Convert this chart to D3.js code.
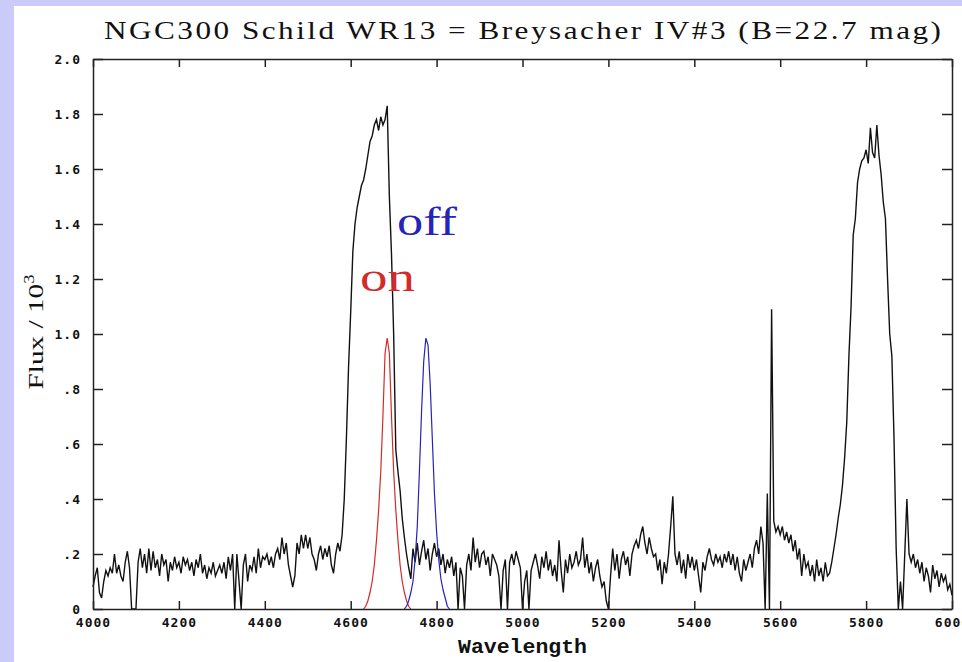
<!DOCTYPE html>
<html>
<head>
<meta charset="utf-8">
<script src="https://cdn.jsdelivr.net/npm/d3@7"></script>
<style>
  body { margin: 0; background: #cbcbfa; }
  svg { display: block; }
</style>
</head>
<body>
<div id="chart"></div>
<script>

// DATA  (flux in units of 10^3, sampled every 5 A from 4000 A)
var spectrumStart = 4000;
var spectrumStep = 5;
var spectrumFlux = [
  0.08,0.12,0.15,0.06,0.04,0.10,0.14,0.12,0.15,0.13,0.20,0.13,0.16,0.12,0.10,0.17,0.21,0.15,0.00,0.00,
  0.00,0.17,0.22,0.15,0.20,0.13,0.22,0.14,0.21,0.15,0.18,0.12,0.20,0.16,0.18,0.10,0.17,0.14,0.19,0.15,
  0.17,0.13,0.19,0.16,0.18,0.14,0.17,0.12,0.18,0.15,0.20,0.13,0.16,0.11,0.15,0.13,0.17,0.12,0.14,0.16,
  0.13,0.17,0.11,0.19,0.14,0.20,0.00,0.20,0.10,0.00,0.16,0.20,0.10,0.16,0.14,0.19,0.13,0.22,0.15,0.19,
  0.18,0.20,0.16,0.19,0.15,0.20,0.22,0.18,0.26,0.20,0.24,0.16,0.12,0.08,0.12,0.24,0.20,0.27,0.22,0.27,
  0.22,0.26,0.20,0.18,0.14,0.20,0.23,0.18,0.22,0.19,0.23,0.16,0.13,0.20,0.24,0.21,0.27,0.40,0.62,0.88,
  1.08,1.30,1.40,1.46,1.50,1.54,1.56,1.60,1.65,1.70,1.72,1.76,1.78,1.74,1.79,1.76,1.78,1.83,1.50,1.29,
  1.00,0.58,0.50,0.43,0.33,0.26,0.20,0.15,0.11,0.22,0.17,0.24,0.16,0.21,0.25,0.18,0.22,0.14,0.20,0.24,
  0.19,0.22,0.16,0.20,0.13,0.18,0.15,0.19,0.12,0.17,0.00,0.15,0.12,0.00,0.16,0.20,0.14,0.26,0.17,0.22,
  0.15,0.20,0.21,0.16,0.19,0.12,0.20,0.18,0.16,0.12,0.00,0.14,0.18,0.00,0.17,0.20,0.16,0.21,0.18,0.15,
  0.00,0.10,0.14,0.00,0.14,0.17,0.20,0.16,0.11,0.19,0.15,0.21,0.14,0.18,0.12,0.16,0.10,0.25,0.14,0.06,
  0.18,0.13,0.20,0.15,0.17,0.21,0.16,0.18,0.26,0.15,0.20,0.13,0.17,0.10,0.15,0.18,0.12,0.08,0.10,0.03,
  0.00,0.12,0.22,0.14,0.20,0.11,0.18,0.21,0.16,0.19,0.12,0.20,0.23,0.25,0.22,0.27,0.30,0.24,0.20,0.26,
  0.22,0.19,0.20,0.14,0.18,0.09,0.17,0.13,0.20,0.30,0.41,0.20,0.16,0.21,0.13,0.18,0.11,0.20,0.15,0.19,
  0.14,0.18,0.12,0.06,0.17,0.14,0.19,0.22,0.18,0.16,0.20,0.17,0.19,0.15,0.20,0.17,0.21,0.16,0.20,0.14,
  0.19,0.13,0.10,0.18,0.14,0.17,0.20,0.15,0.22,0.25,0.20,0.30,0.24,0.00,0.42,0.00,1.09,0.32,0.28,0.30,
  0.27,0.30,0.25,0.28,0.24,0.27,0.21,0.25,0.18,0.22,0.12,0.20,0.15,0.17,0.12,0.16,0.10,0.18,0.12,0.15,
  0.10,0.17,0.12,0.13,0.17,0.22,0.27,0.33,0.38,0.45,0.55,0.68,0.92,1.10,1.36,1.42,1.55,1.60,1.63,1.64,
  1.67,1.62,1.75,1.66,1.64,1.76,1.65,1.58,1.48,1.42,1.20,1.00,0.92,0.62,0.22,0.00,0.10,0.00,0.20,0.40,
  0.20,0.17,0.20,0.15,0.18,0.13,0.17,0.10,0.15,0.12,0.06,0.16,0.11,0.14,0.08,0.13,0.10,0.12,0.07,0.09,
  0.05
];

// filter transmission curves (same 5 A step)
var onStart = 4630;
var onFlux = [0.00,0.01,0.03,0.06,0.10,0.16,0.25,0.36,0.50,0.70,0.93,0.985,0.93,0.70,0.50,0.36,0.25,0.16,0.10,0.06,0.03,0.01,0.00];
var offStart = 4725;
var offFlux = [0.00,0.01,0.03,0.06,0.10,0.18,0.30,0.50,0.72,0.90,0.985,0.96,0.82,0.62,0.42,0.28,0.18,0.11,0.07,0.04,0.01,0.00];

var xTicks = [4000,4200,4400,4600,4800,5000,5200,5400,5600,5800,6000];
var yTicks = [0,0.2,0.4,0.6,0.8,1.0,1.2,1.4,1.6,1.8,2.0];
var yTickLabels = ["0",".2",".4",".6",".8","1.0","1.2","1.4","1.6","1.8","2.0"];

var titleText = "NGC300 Schild WR13 = Breysacher IV#3 (B=22.7 mag)";

// LAYOUT
var width = 962;
var height = 662;
var plotLeft = 93, plotRight = 952, plotTop = 59, plotBottom = 609;

var svg = d3.select("#chart")
  .append("svg")
  .attr("width", width)
  .attr("height", height);

svg.append("rect")
  .attr("width", width)
  .attr("height", height)
  .attr("fill", "#cbcbfa");

svg.append("rect")
  .attr("x", 14)
  .attr("y", 6)
  .attr("width", width - 14)
  .attr("height", height - 6)
  .attr("fill", "white");

var x = d3.scaleLinear().domain([4000, 6000]).range([plotLeft, plotRight]);
var y = d3.scaleLinear().domain([0, 2.0]).range([plotBottom, plotTop]);

function toPoints(start, arr) {
  return arr.map(function(v, i) { return [start + i * spectrumStep, v]; });
}

var line = d3.line()
  .x(function(d) { return x(d[0]); })
  .y(function(d) { return y(d[1]); });

// SPECTRUM
svg.append("path")
  .datum(toPoints(spectrumStart, spectrumFlux))
  .attr("d", line)
  .attr("fill", "none")
  .attr("stroke", "#111")
  .attr("stroke-width", 1.4);

// FILTERS
svg.append("path")
  .datum(toPoints(onStart, onFlux))
  .attr("d", line)
  .attr("fill", "none")
  .attr("stroke", "#d42a2a")
  .attr("stroke-width", 1.2);

svg.append("path")
  .datum(toPoints(offStart, offFlux))
  .attr("d", line)
  .attr("fill", "none")
  .attr("stroke", "#2424b8")
  .attr("stroke-width", 1.2);

// AXES
var tickFont = "'DejaVu Sans Mono', monospace";

svg.append("g")
  .attr("transform", "translate(0," + plotBottom + ")")
  .call(d3.axisBottom(x).tickValues(xTicks).tickSize(-8).tickSizeOuter(0).tickPadding(9)
    .tickFormat(d3.format("d")));

svg.append("g")
  .attr("transform", "translate(0," + plotTop + ")")
  .call(d3.axisTop(x).tickValues(xTicks).tickSize(-8).tickSizeOuter(0).tickFormat(""));

svg.append("g")
  .attr("transform", "translate(" + plotLeft + ",0)")
  .call(d3.axisLeft(y).tickValues(yTicks).tickSize(-10).tickSizeOuter(0).tickPadding(12)
    .tickFormat(function(d, i) { return yTickLabels[i]; }));

svg.append("g")
  .attr("transform", "translate(" + plotRight + ",0)")
  .call(d3.axisRight(y).tickValues(yTicks).tickSize(-10).tickSizeOuter(0).tickFormat(""));

svg.selectAll(".domain, .tick line")
  .attr("stroke", "#222")
  .attr("stroke-width", 1.5);

svg.selectAll(".tick text")
  .attr("font-family", tickFont)
  .attr("font-weight", "bold")
  .attr("font-size", "13px")
  .attr("letter-spacing", "1px")
  .attr("fill", "#111");

// TEXTS
// title: serif glyphs widened a bit, the rest of the width filled with spacing
var titleScale = 1.2;
svg.append("text")
  .attr("transform", "translate(" + ((plotLeft + plotRight) / 2) + ",39) scale(" + titleScale + ",1)")
  .attr("text-anchor", "middle")
  .attr("font-family", "'Liberation Serif', serif")
  .attr("font-size", "26px")
  .attr("textLength", 837 / titleScale)
  .attr("lengthAdjust", "spacing")
  .attr("fill", "#111")
  .text(titleText);

svg.append("text")
  .attr("x", (plotLeft + plotRight) / 2)
  .attr("y", 653)
  .attr("text-anchor", "middle")
  .attr("font-family", "'Liberation Mono', monospace")
  .attr("font-weight", "bold")
  .attr("font-size", "20px")
  .attr("textLength", 129)
  .attr("lengthAdjust", "spacingAndGlyphs")
  .attr("fill", "#111")
  .text("Wavelength");

var yLabel = svg.append("text")
  .attr("transform", "translate(43,332) rotate(-90)")
  .attr("text-anchor", "middle")
  .attr("font-family", "'Liberation Serif', serif")
  .attr("font-size", "22px")
  .attr("textLength", 115)
  .attr("lengthAdjust", "spacingAndGlyphs")
  .attr("fill", "#111");
yLabel.append("tspan").text("Flux / 10");
yLabel.append("tspan").attr("dy", -9).attr("font-size", "14px").text("3");

svg.append("text")
  .attr("x", 397)
  .attr("y", 235)
  .attr("font-family", "'Liberation Serif', serif")
  .attr("font-size", "40px")
  .attr("textLength", 60)
  .attr("lengthAdjust", "spacingAndGlyphs")
  .attr("fill", "#2424b8")
  .text("off");

svg.append("text")
  .attr("x", 360)
  .attr("y", 291)
  .attr("font-family", "'Liberation Serif', serif")
  .attr("font-size", "40px")
  .attr("textLength", 55)
  .attr("lengthAdjust", "spacingAndGlyphs")
  .attr("fill", "#d42a2a")
  .text("on");

</script>
</body>
</html>
